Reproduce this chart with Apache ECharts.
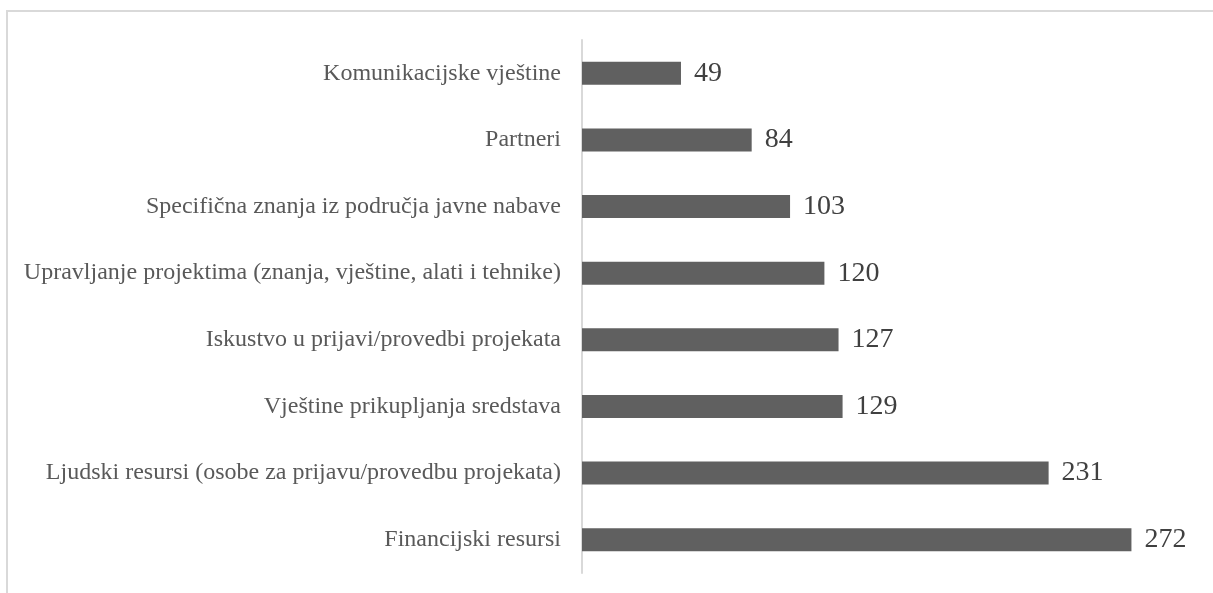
<!DOCTYPE html>
<html>
<head>
<meta charset="utf-8">
<script src="https://cdn.jsdelivr.net/npm/echarts@6/dist/echarts.min.js"></script>
<style>
  html, body { margin: 0; padding: 0; background: #fff; }
  .frame { position: absolute; left: 6px; top: 10px; width: 1300px; height: 700px;
           border-top: 2px solid #d9d9d9; border-left: 2px solid #d9d9d9; }
  .bar { position: absolute; left: 0; top: 0; width: 1213px; height: 593px; }
</style>
</head>
<body>
<div class="frame"></div>
<div class="bar"></div>
<script>
// 类目（从下到上）
var categories = [
  'Financijski resursi',
  'Ljudski resursi (osobe za prijavu/provedbu projekata)',
  'Vještine prikupljanja sredstava',
  'Iskustvo u prijavi/provedbi projekata',
  'Upravljanje projektima (znanja, vještine, alati i tehnike)',
  'Specifična znanja iz područja javne nabave',
  'Partneri',
  'Komunikacijske vještine'
]
var values = [272, 231, 129, 127, 120, 103, 84, 49]

;(function () {
  var myChart = echarts.init(document.querySelector('.bar'))
  var option = {
    animation: false,
    grid: {
      left: 582,
      top: 40,
      width: 606,
      height: 533,
      containLabel: false
    },
    xAxis: {
      type: 'value',
      min: 0,
      max: 300,
      show: false
    },
    yAxis: {
      type: 'category',
      data: categories,
      axisTick: { show: false },
      axisLine: {
        lineStyle: { color: '#d9d9d9', width: 2 }
      },
      axisLabel: {
        color: '#595959',
        fontFamily: 'Liberation Serif',
        fontSize: 24,
        margin: 21
      }
    },
    series: [
      {
        type: 'bar',
        data: values,
        barWidth: 23,
        itemStyle: { color: '#606060' },
        label: {
          show: true,
          position: 'right',
          distance: 13,
          color: '#404040',
          fontFamily: 'Liberation Serif',
          fontSize: 28
        }
      }
    ]
  }
  myChart.setOption(option)
})()
</script>
</body>
</html>
